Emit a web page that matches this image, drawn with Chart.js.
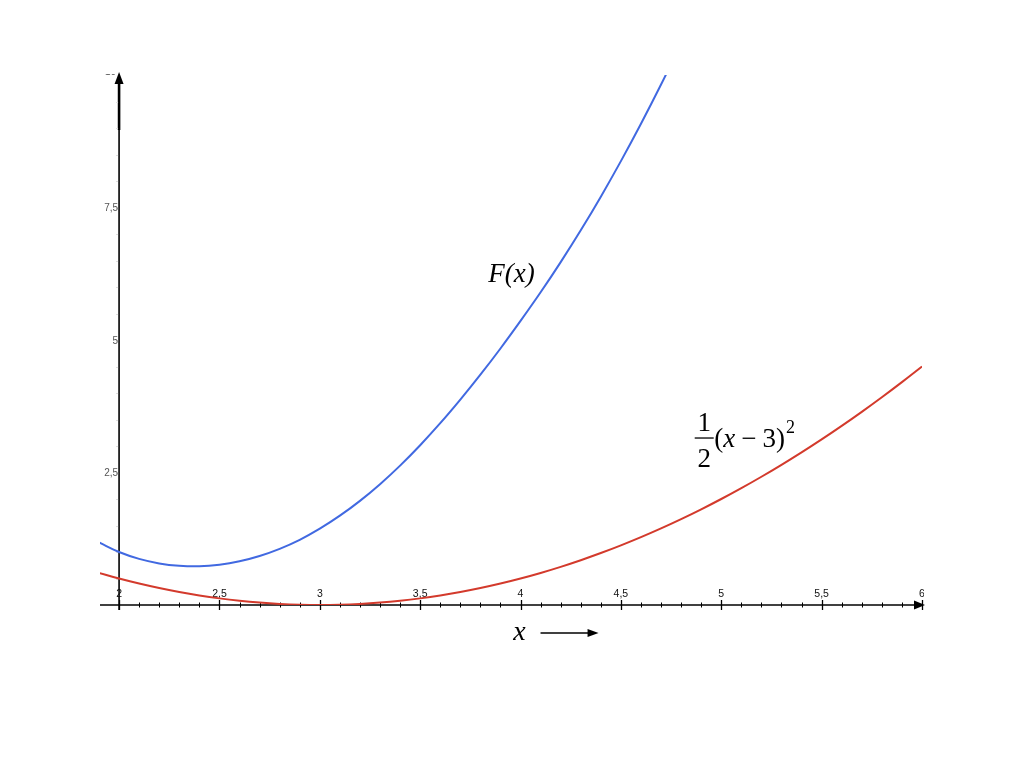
<!DOCTYPE html>
<html>
<head>
<meta charset="utf-8">
<script src="https://cdn.jsdelivr.net/npm/chart.js@4.4.0/dist/chart.umd.min.js"></script>
<style>
  html, body { margin: 0; padding: 0; background: #ffffff; }
  #wrap { width: 1024px; height: 768px; }
</style>
</head>
<body>
<div id="wrap"><canvas id="c" width="1024" height="768"></canvas></div>
<script>
// ---- data ----
const xValues = [1.9, 2.0, 2.1, 2.2, 2.3, 2.4, 2.5, 2.6, 2.7, 2.8, 2.9, 3.0, 3.1, 3.2, 3.3, 3.4, 3.5, 3.6, 3.7, 3.8, 3.9, 4.0, 4.1, 4.2, 4.3, 4.4, 4.5, 4.6, 4.7, 4.8, 4.9, 5.0, 5.1, 5.2, 5.3, 5.4, 5.5, 5.6, 5.7, 5.8, 5.9, 6.0];
const fValues = [1.18, 1.00, 0.87, 0.785, 0.74, 0.73, 0.76, 0.825, 0.925, 1.06, 1.23, 1.44, 1.685, 1.965, 2.28, 2.63, 3.015, 3.43, 3.875, 4.345, 4.84, 5.36, 5.90, 6.47, 7.07, 7.705, 8.375, 9.08, 9.82, 10.595];
const halfSquareValues = [0.605, 0.5, 0.405, 0.32, 0.245, 0.18, 0.125, 0.08, 0.045, 0.02, 0.005, 0, 0.005, 0.02, 0.045, 0.08, 0.125, 0.18, 0.245, 0.32, 0.405, 0.5, 0.605, 0.72, 0.845, 0.98, 1.125, 1.28, 1.445, 1.62, 1.805, 2.0, 2.205, 2.42, 2.645, 2.88, 3.125, 3.38, 3.645, 3.92, 4.205, 4.5];
const xTickValues = [2, 2.5, 3, 3.5, 4, 4.5, 5, 5.5, 6];
const xTickLabels = ['2', '2,5', '3', '3,5', '4', '4,5', '5', '5,5', '6'];
const yTickValues = [2.5, 5, 7.5, 10];
const yTickLabels = ['2,5', '5', '7,5', '10'];
const seriesNames = ['F(x)', '½(x − 3)²'];

const fPoints = fValues.map((v, i) => ({ x: xValues[i], y: v }));
const hPoints = halfSquareValues.map((v, i) => ({ x: xValues[i], y: v }));

function arrowHead(ctx, tipX, tipY, dir, len, half) {
  ctx.beginPath();
  if (dir === 'up') {
    ctx.moveTo(tipX, tipY);
    ctx.lineTo(tipX - half, tipY + len);
    ctx.lineTo(tipX + half, tipY + len);
  } else {
    ctx.moveTo(tipX, tipY);
    ctx.lineTo(tipX - len, tipY - half);
    ctx.lineTo(tipX - len, tipY + half);
  }
  ctx.closePath();
  ctx.fill();
}

const axesPlugin = {
  id: 'axesPlugin',
  beforeDatasetsDraw(chart) {
    const ctx = chart.ctx;
    const xs = chart.scales.x, ys = chart.scales.y;
    const x0 = xs.getPixelForValue(2);
    const y0 = ys.getPixelForValue(0);
    const yTop = ys.getPixelForValue(10);
    const xLeft = xs.left;
    const xRight = xs.getPixelForValue(6) + 3;
    ctx.save();
    ctx.strokeStyle = '#000';
    ctx.fillStyle = '#000';
    // x axis
    ctx.lineWidth = 1.6;
    ctx.beginPath();
    ctx.moveTo(xLeft, y0);
    ctx.lineTo(xRight - 6, y0);
    ctx.stroke();
    arrowHead(ctx, xRight, y0, 'right', 11, 4.5);
    // ticks
    for (let i = 0; i <= 40; i++) {
      const v = 2 + i * 0.1;
      const px = Math.round(xs.getPixelForValue(v)) + 0.5;
      const major = i % 5 === 0;
      ctx.lineWidth = major ? 1.3 : 1;
      ctx.beginPath();
      ctx.moveTo(px, y0 - (major ? 5 : 2.5));
      ctx.lineTo(px, y0 + (major ? 5 : 2.5));
      ctx.stroke();
    }
    // y axis
    ctx.lineWidth = 1.6;
    ctx.beginPath();
    ctx.moveTo(x0, y0 + 5);
    ctx.lineTo(x0, yTop + 6);
    ctx.stroke();
    ctx.lineWidth = 2.6;
    ctx.beginPath();
    ctx.moveTo(x0, yTop + 8);
    ctx.lineTo(x0, yTop + 55);
    ctx.stroke();
    arrowHead(ctx, x0, yTop - 3, 'up', 12, 4.5);
    // faint y ticks
    ctx.strokeStyle = '#dddddd';
    ctx.lineWidth = 1;
    for (let i = 1; i < 20; i++) {
      const py = Math.round(ys.getPixelForValue(i * 0.5)) + 0.5;
      ctx.beginPath();
      ctx.moveTo(x0 - 3, py);
      ctx.lineTo(x0 - 1, py);
      ctx.stroke();
    }
    // x tick labels
    ctx.save();
    ctx.beginPath();
    ctx.rect(0, 0, xRight - 1, 768);
    ctx.clip();
    ctx.fillStyle = '#111';
    ctx.font = '10.5px "Liberation Sans", Arial, sans-serif';
    ctx.textAlign = 'center';
    ctx.textBaseline = 'alphabetic';
    xTickValues.forEach((v, i) => {
      ctx.fillText(xTickLabels[i], xs.getPixelForValue(v), y0 - 8);
    });
    ctx.restore();
    // y tick labels
    ctx.fillStyle = '#555';
    ctx.font = '10px "Liberation Sans", Arial, sans-serif';
    ctx.textAlign = 'right';
    ctx.textBaseline = 'middle';
    yTickValues.forEach((v, i) => {
      const py = ys.getPixelForValue(v);
      if (v === 10) {
        ctx.save();
        ctx.beginPath();
        ctx.rect(0, py - 1, 1024, 6);
        ctx.clip();
        ctx.fillText(yTickLabels[i], x0 - 3, py - 3);
        ctx.restore();
      } else {
        ctx.fillText(yTickLabels[i], x0 - 1, py + 1);
      }
    });
    ctx.restore();
  },
  afterDraw(chart) {
    const ctx = chart.ctx;
    const xs = chart.scales.x, ys = chart.scales.y;
    ctx.save();
    ctx.fillStyle = '#000';
    ctx.strokeStyle = '#000';
    // axis title "x ->"
    const y0 = ys.getPixelForValue(0);
    const cx = xs.getPixelForValue(4.0);
    ctx.font = 'italic 28px "Liberation Serif", "Times New Roman", serif';
    ctx.textAlign = 'center';
    ctx.textBaseline = 'alphabetic';
    ctx.fillText('x', cx - 1, y0 + 35);
    ctx.lineWidth = 1.6;
    ctx.beginPath();
    ctx.moveTo(cx + 20, y0 + 28);
    ctx.lineTo(cx + 68, y0 + 28);
    ctx.stroke();
    arrowHead(ctx, cx + 78, y0 + 28, 'right', 11, 4);

    // F(x) label
    ctx.font = 'italic 27px "Liberation Serif", "Times New Roman", serif';
    ctx.textAlign = 'center';
    ctx.fillText(seriesNames[0], xs.getPixelForValue(3.955), ys.getPixelForValue(6.1));

    // 1/2 (x - 3)^2 label
    const fx = xs.getPixelForValue(4.915);
    const fy = ys.getPixelForValue(3.16);
    ctx.font = '27px "Liberation Serif", "Times New Roman", serif';
    ctx.textAlign = 'center';
    ctx.fillText('1', fx, fy - 7);
    ctx.fillText('2', fx, fy + 29);
    ctx.lineWidth = 1.3;
    ctx.beginPath();
    ctx.moveTo(fx - 9.5, fy + 0.5);
    ctx.lineTo(fx + 9.5, fy + 0.5);
    ctx.stroke();
    ctx.textAlign = 'left';
    let tx = fx + 10;
    const base = fy + 9;
    ctx.font = '27px "Liberation Serif", "Times New Roman", serif';
    ctx.fillText('(', tx, base); tx += ctx.measureText('(').width;
    ctx.font = 'italic 27px "Liberation Serif", "Times New Roman", serif';
    ctx.fillText('x', tx, base); tx += ctx.measureText('x').width + 6;
    ctx.font = '27px "Liberation Serif", "Times New Roman", serif';
    ctx.fillText('\u2212', tx, base); tx += ctx.measureText('\u2212').width + 6;
    ctx.fillText('3)', tx, base); tx += ctx.measureText('3)').width + 1;
    ctx.font = '18px "Liberation Serif", "Times New Roman", serif';
    ctx.fillText('2', tx, base - 14);
    ctx.restore();
  }
};

new Chart(document.getElementById('c'), {
  type: 'scatter',
  data: {
    datasets: [
      {
        label: seriesNames[0],
        data: fPoints,
        showLine: true,
        borderColor: '#4169e1',
        backgroundColor: '#4169e1',
        borderWidth: 2,
        pointRadius: 0,
        tension: 0.4
      },
      {
        label: seriesNames[1],
        data: hPoints,
        showLine: true,
        borderColor: '#d33a2c',
        backgroundColor: '#d33a2c',
        borderWidth: 2,
        pointRadius: 0,
        tension: 0.4
      }
    ]
  },
  options: {
    responsive: false,
    animation: false,
    devicePixelRatio: 1,
    layout: { padding: { left: 100, right: 102, top: 75, bottom: 163 } },
    plugins: { legend: { display: false }, tooltip: { enabled: false } },
    scales: {
      x: { type: 'linear', min: 1.905, max: 6.0, display: false },
      y: { type: 'linear', min: 0, max: 10, display: false }
    }
  },
  plugins: [axesPlugin]
});
</script>
</body>
</html>
